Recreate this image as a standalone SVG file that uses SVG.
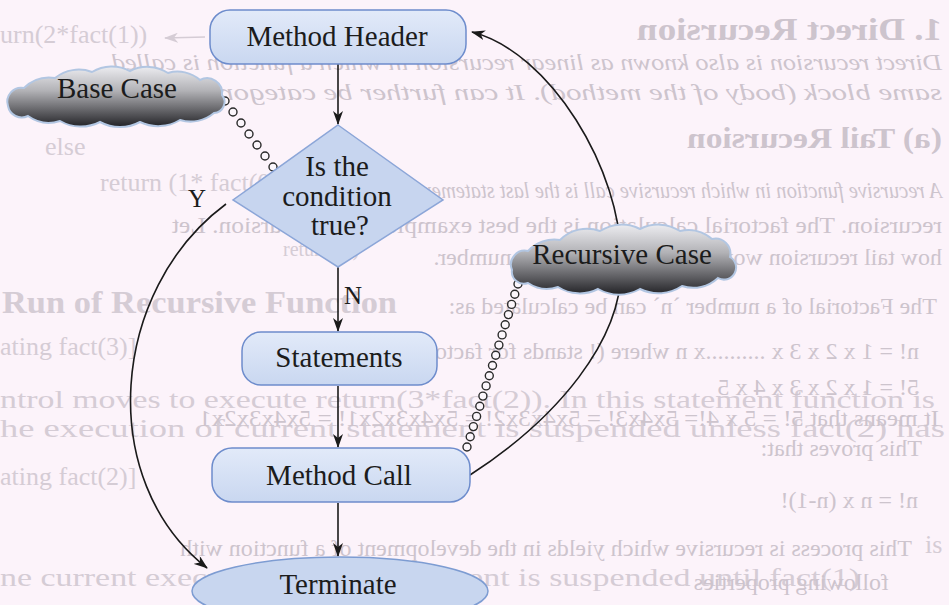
<svg xmlns="http://www.w3.org/2000/svg" width="949" height="605" viewBox="0 0 949 605">
<style>
.lbl{font-family:"Liberation Serif","Times New Roman",serif;font-size:29px;fill:#1c1c1c;text-anchor:middle}
.yn{font-family:"Liberation Serif","Times New Roman",serif;font-size:25px;fill:#1c1c1c;text-anchor:middle}
.box{fill:url(#boxGrad);stroke:#6d8ccc;stroke-width:1.5}
.cloud{fill:url(#cloudGrad);stroke:#b2c6e2;stroke-width:2}
.con{fill:none;stroke:#1a1a1a;stroke-width:1.6}
.arr{marker-end:url(#ah)}
.dot{fill:#fbf6fb;stroke:#2a2a2a;stroke-width:1.4}
.bg{font-family:"Liberation Serif","Times New Roman",serif;font-size:26px;fill:#d5ccd5}
.bgm{font-family:"Liberation Serif","Times New Roman",serif;font-size:24px;fill:#cdc4cd}
.it{font-style:italic}
.bd{font-weight:bold}
.h1{font-size:32px}
.h3{font-size:29px}
.sm{font-size:20px}
.h2{font-size:32px}
</style>
<defs>
<linearGradient id="boxGrad" x1="0" y1="0" x2="0" y2="1">
<stop offset="0" stop-color="#e2eaf9"/>
<stop offset="1" stop-color="#c9d7f0"/>
</linearGradient>
<linearGradient id="cloudGrad" x1="0" y1="0" x2="0" y2="1">
<stop offset="0" stop-color="#ececf0"/>
<stop offset="0.4" stop-color="#b2b2b6"/>
<stop offset="0.75" stop-color="#5e5e62"/>
<stop offset="1" stop-color="#222226"/>
</linearGradient>
<marker id="ah" viewBox="0 0 14 10" refX="13" refY="5" markerWidth="14" markerHeight="10" markerUnits="userSpaceOnUse" orient="auto">
<path d="M0,0 L14,5 L0,10 L4,5 Z" fill="#1a1a1a"/>
</marker>
<marker id="ahf" viewBox="0 0 14 10" refX="13" refY="5" markerWidth="14" markerHeight="10" markerUnits="userSpaceOnUse" orient="auto">
<path d="M0,0 L14,5 L0,10 L4,5 Z" fill="#d5ccd5"/>
</marker>
</defs>
<rect x="0" y="0" width="949" height="605" fill="#fcf3fa"/>

<g id="page-behind">
<text class="bg" x="0" y="43">urn(2*fact(1))</text>
<line x1="205" y1="37" x2="165" y2="38" stroke="#d5ccd5" stroke-width="1.5" marker-end="url(#ahf)"/>
<text class="bg" x="45" y="155">else</text>
<text class="bg" x="100" y="191">return (1* fact(0))</text>
<text class="bg sm" x="283" y="256">return (1)</text>
<text class="bg bd h2" x="2" y="313" textLength="395" lengthAdjust="spacingAndGlyphs">Run of Recursive Function</text>
<text class="bg" x="0" y="355">ating fact(3)]</text>
<text class="bg" x="0" y="408" textLength="935" lengthAdjust="spacingAndGlyphs">ntrol moves to execute return(3*fact(2)). In this statement function is</text>
<text class="bg" x="0" y="437" textLength="945" lengthAdjust="spacingAndGlyphs">he execution of current statement is suspended unless fact(2) has</text>
<text class="bg" x="0" y="485">ating fact(2)]</text>
<text class="bg" x="925" y="553">is</text>
<text class="bg" x="0" y="586" textLength="860" lengthAdjust="spacingAndGlyphs">ne current execution of this statement is suspended until fact(1)</text>
</g>

<g id="page-mirrored" transform="translate(949 0) scale(-1 1)">
<text class="bgm bd h1" x="7" y="40" textLength="305" lengthAdjust="spacingAndGlyphs">1. Direct Recursion</text>
<text class="bgm it" x="7" y="70" textLength="830" lengthAdjust="spacingAndGlyphs">Direct recursion is also known as linear recursion in which a function is called</text>
<text class="bgm it" x="7" y="100" textLength="770" lengthAdjust="spacingAndGlyphs">same block (body of the method). It can further be categorized</text>
<text class="bgm bd h3" x="7" y="148" textLength="255" lengthAdjust="spacingAndGlyphs">(a) Tail Recursion</text>
<text class="bgm it" x="7" y="198" textLength="650" lengthAdjust="spacingAndGlyphs">A recursive function in which recursive call is the last statement of the function</text>
<text class="bgm" x="7" y="233" textLength="770" lengthAdjust="spacingAndGlyphs">recursion. The factorial calculation is the best example of tail recursion. Let</text>
<text class="bgm" x="7" y="265">how tail recursion works using factorial of a number.</text>
<text class="bgm" x="12" y="314">The Factorial of a number `n` can be calculated as:</text>
<text class="bgm" x="30" y="359">n! = 1 x 2 x 3 x ..........x n where (! stands for factorial)</text>
<text class="bgm" x="30" y="395">5! = 1 x 2 x 3 x 4 x 5</text>
<text class="bgm" x="10" y="426" textLength="740" lengthAdjust="spacingAndGlyphs">It means that 5! = 5 x 4!= 5x4x3! = 5x4x3x2! = 5x4x3x2x1! = 5x4x3x2x1</text>
<text class="bgm" x="27" y="456">This proves that:</text>
<text class="bgm" x="31" y="508">n! = n x (n-1)!</text>
<text class="bgm" x="37" y="556">This process is recursive which yields in the development of a function with</text>
<text class="bgm" x="60" y="590">following properties</text>
</g>

<g id="connectors">
<line class="con arr" x1="338" y1="64" x2="338" y2="124"/>
<line class="con arr" x1="338" y1="267" x2="338" y2="331"/>
<line class="con arr" x1="338" y1="386" x2="338" y2="447"/>
<line class="con arr" x1="338" y1="503" x2="338" y2="556"/>
<path class="con arr" d="M226,204 C110,290 95,480 207,568"/>
<path class="con arr" d="M470,475 C555,420 625,340 621,262 C622,170 550,52 472,32"/>
<text class="yn" x="197" y="207">Y</text>
<text class="yn" x="353" y="304">N</text>
</g>

<g id="base-case-link">
<circle class="dot" cx="225" cy="101" r="4"/>
<circle class="dot" cx="233" cy="112" r="4"/>
<circle class="dot" cx="241" cy="123" r="4"/>
<circle class="dot" cx="249" cy="134" r="4"/>
<circle class="dot" cx="257" cy="145" r="4"/>
<circle class="dot" cx="265" cy="156" r="4"/>
<circle class="dot" cx="273" cy="167" r="4"/>
</g>

<g id="recursive-case-link">
<circle class="dot" cx="518" cy="284" r="4"/>
<circle class="dot" cx="514.8" cy="294.2" r="4"/>
<circle class="dot" cx="511.6" cy="304.4" r="4"/>
<circle class="dot" cx="508.4" cy="314.6" r="4"/>
<circle class="dot" cx="505.2" cy="324.8" r="4"/>
<circle class="dot" cx="502.1" cy="334.9" r="4"/>
<circle class="dot" cx="498.9" cy="345.1" r="4"/>
<circle class="dot" cx="495.7" cy="355.3" r="4"/>
<circle class="dot" cx="492.5" cy="365.5" r="4"/>
<circle class="dot" cx="489.3" cy="375.7" r="4"/>
<circle class="dot" cx="486.1" cy="385.9" r="4"/>
<circle class="dot" cx="482.9" cy="396.1" r="4"/>
<circle class="dot" cx="479.8" cy="406.2" r="4"/>
<circle class="dot" cx="476.6" cy="416.4" r="4"/>
<circle class="dot" cx="473.4" cy="426.6" r="4"/>
<circle class="dot" cx="470.2" cy="436.8" r="4"/>
<circle class="dot" cx="467" cy="447" r="4"/>
</g>

<g id="method-header">
<rect class="box" x="210" y="10" width="256" height="54" rx="20"/>
<text class="lbl" x="337" y="46">Method Header</text>
</g>

<g id="condition">
<polygon points="338,125 443,200 338,267 233,200" fill="#c7d5ef" stroke="#8ca6d8" stroke-width="1.5"/>
<text class="lbl" x="337" y="176">Is the</text>
<text class="lbl" x="337" y="206">condition</text>
<text class="lbl" x="340" y="235">true?</text>
</g>

<g id="statements">
<rect class="box" x="242" y="332" width="195" height="53" rx="19"/>
<text class="lbl" x="339" y="367">Statements</text>
</g>

<g id="method-call">
<rect class="box" x="212" y="448" width="258" height="54" rx="20"/>
<text class="lbl" x="339" y="485">Method Call</text>
</g>

<g id="terminate">
<ellipse cx="340" cy="591" rx="148" ry="34" fill="#c8d6ef" stroke="#7d9cd2" stroke-width="1.5"/>
<text class="lbl" x="338" y="594">Terminate</text>
</g>

<g id="base-case">
<path class="cloud" d="M8,106 A14 14 0 0 1 24,88 A36 36 0 0 1 55,78 A38 38 0 0 1 92,72 A38 38 0 0 1 130,71 A38 38 0 0 1 168,73 A34 34 0 0 1 200,80 A15 15 0 0 1 222,95 A11 11 0 0 1 214,113 A36 36 0 0 1 180,120 A42 42 0 0 1 140,122 A42 42 0 0 1 100,122 A42 42 0 0 1 60,121 A36 36 0 0 1 28,116 A14 14 0 0 1 8,106 Z"/>
<text class="lbl" x="117" y="98">Base Case</text>
</g>

<g id="recursive-case">
<path class="cloud" d="M512,270 A14 14 0 0 1 528,251 A36 36 0 0 1 560,240 A38 38 0 0 1 600,231 A40 40 0 0 1 640,229 A40 40 0 0 1 680,231 A36 36 0 0 1 712,239 A15 15 0 0 1 730,257 A12 12 0 0 1 718,278 A36 36 0 0 1 682,286 A42 42 0 0 1 640,289 A42 42 0 0 1 598,289 A40 40 0 0 1 558,287 A34 34 0 0 1 528,283 A12 12 0 0 1 512,270 Z"/>
<text class="lbl" x="622" y="264">Recursive Case</text>
</g>
</svg>
